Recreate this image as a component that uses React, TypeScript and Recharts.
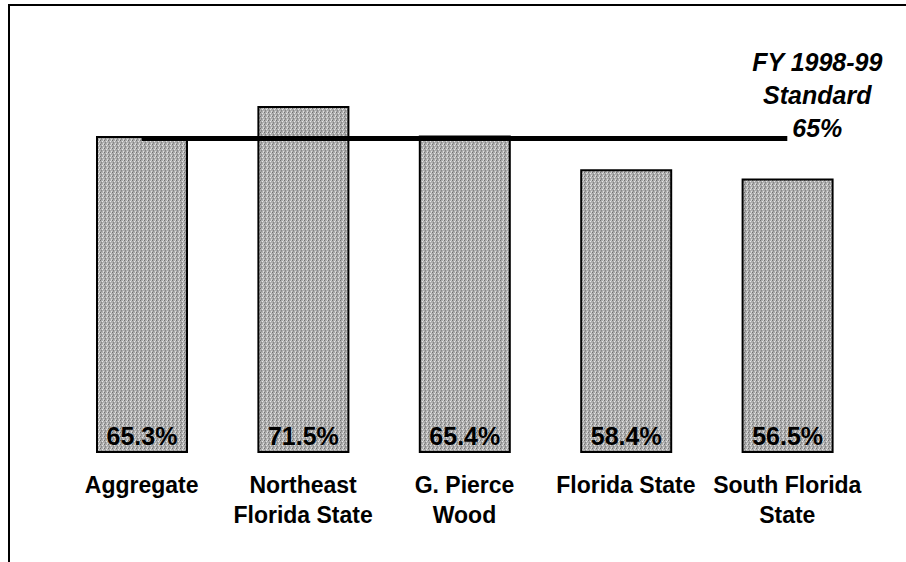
import React from 'react';
import { ComposedChart, Bar, Line, XAxis, YAxis, LabelList } from 'recharts';

const facilities = ['Aggregate', 'Northeast Florida State', 'G. Pierce Wood', 'Florida State', 'South Florida State'];
const tickLines = [['Aggregate'], ['Northeast', 'Florida State'], ['G. Pierce', 'Wood'], ['Florida State'], ['South Florida', 'State']];
const rates = [65.3, 71.5, 65.4, 58.4, 56.5];
const standard = 65;
const standardText = ['FY 1998-99', 'Standard', '65%'];

const data = facilities.map((name, i) => ({ name, rate: rates[i], standard }));

const font = 'Arial, "Liberation Sans", sans-serif';

const FacilityTick = (props: any) => {
  const { x, y, payload } = props;
  const lines = tickLines[payload.index] || [payload.value];
  return (
    <text x={x} y={y} textAnchor="middle" fontFamily={font} fontWeight="bold" fontSize={23} fill="#000">
      {lines.map((l: string, i: number) => (
        <tspan key={i} x={x} dy={i === 0 ? 33 : 30}>{l}</tspan>
      ))}
    </text>
  );
};

const StandardLabel = (props: any) => {
  const { x, y, index } = props;
  if (index !== data.length - 1) return null;
  return (
    <text x={x + 30} y={y} textAnchor="middle" fontFamily={font} fontWeight="bold" fontStyle="italic" fontSize={25} fill="#000">
      {standardText.map((t, i) => (
        <tspan key={i} x={x + 30} y={y - 67 + i * 33}>{t}</tspan>
      ))}
    </text>
  );
};

const App: React.FC = () => {
  return (
    <div style={{ position: 'absolute', left: 0, top: 0, width: 906, height: 562, background: '#fff' }}>
      <div style={{ position: 'absolute', left: 8, top: 4, width: 898, height: 558, borderTop: '2px solid #000', borderLeft: '2px solid #000' }} />
      <ComposedChart width={906} height={562} data={data} margin={{ top: 66, right: 38, bottom: 50, left: 61 }}>
        <defs>
          <pattern id="dither" width="4" height="4" patternUnits="userSpaceOnUse">
            <rect width="4" height="4" fill="#adadad" />
            <rect x="0" y="0" width="1" height="1" fill="#707070" />
            <rect x="2" y="1" width="1" height="1" fill="#e6e6e6" />
            <rect x="1" y="2" width="1" height="1" fill="#858585" />
            <rect x="3" y="3" width="1" height="1" fill="#dcdcdc" />
            <rect x="3" y="0" width="1" height="1" fill="#d0d0d0" />
            <rect x="1" y="3" width="1" height="1" fill="#939393" />
          </pattern>
        </defs>
        <XAxis dataKey="name" axisLine={false} tickLine={false} interval={0} height={60} tick={<FacilityTick />} />
        <YAxis hide domain={[0, 80]} />
        <Bar dataKey="rate" barSize={90} fill="url(#dither)" stroke="#000" strokeWidth={2} isAnimationActive={false}>
          <LabelList
            dataKey="rate"
            position="insideBottom"
            offset={7}
            formatter={(v: any) => `${Number(v).toFixed(1)}%`}
            style={{ fontFamily: font, fontWeight: 'bold', fontSize: 25, fill: '#000' }}
          />
        </Bar>
        <Line dataKey="standard" stroke="#000" strokeWidth={5} dot={false} activeDot={false} isAnimationActive={false}>
          <LabelList dataKey="standard" content={<StandardLabel />} />
        </Line>
      </ComposedChart>
    </div>
  );
};

export default App;
